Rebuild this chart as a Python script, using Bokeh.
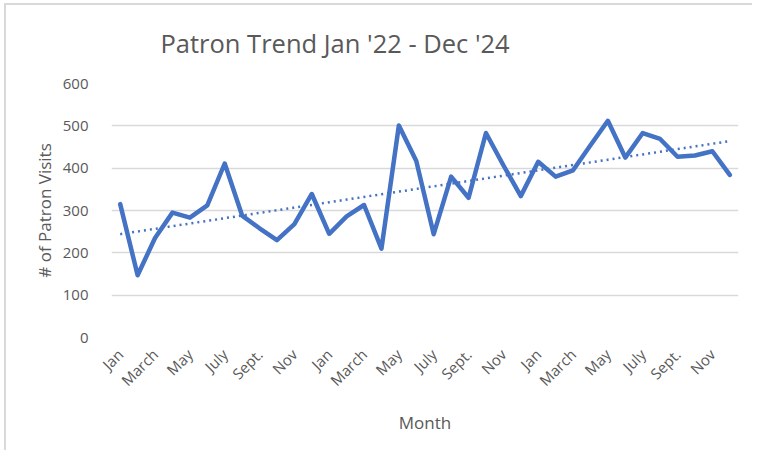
import math
import numpy as np
from bokeh.plotting import figure
from bokeh.models import Range1d, FixedTicker, ColumnDataSource
from bokeh.embed import file_html
from bokeh.resources import INLINE

# ---- data ----
months = ["Jan", "Feb", "March", "April", "May", "June", "July", "Aug", "Sept.", "Oct", "Nov", "Dec"] * 3
visits = [315, 147, 235, 295, 283, 312, 411, 288, 258, 230, 268, 339,
          245, 286, 313, 210, 501, 417, 244, 380, 330, 483, 407, 334,
          415, 380, 395, 454, 512, 425, 483, 469, 427, 430, 440, 384]
y_ticks = [0, 100, 200, 300, 400, 500, 600]
title_text = "Patron Trend Jan '22 - Dec '24"
x_title = "Month"
y_title = "# of Patron Visits"

idx = list(range(len(visits)))
shown = idx[::2]
label_map = {i: months[i] for i in shown}

slope, intercept = np.polyfit(idx, visits, 1)
trend = [slope * i + intercept for i in idx]

src = ColumnDataSource(dict(x=idx, y=visits, t=trend))

FONT = "Open Sans"
GREY = "#595959"
BLUE = "#4472C4"

p = figure(width=752, height=450, output_backend="svg", toolbar_location=None,
           x_range=Range1d(-0.5, len(visits) - 0.5), y_range=Range1d(0, 600),
           min_border_left=111, min_border_right=14, min_border_top=81, min_border_bottom=113)

p.outline_line_color = None
p.background_fill_color = "white"
p.border_fill_color = None

# chart-area border (only left and top edges visible in the reference), painted behind the canvas
p.styles = {"background": "linear-gradient(#d9d9d9, #d9d9d9) 4px 3px / 2px 100% no-repeat, "
                          "linear-gradient(#d9d9d9, #d9d9d9) 4px 3px / 100% 2px no-repeat, white"}

p.line("x", "t", source=src, line_color=BLUE, line_width=2.5, line_dash="2 4")
p.line("x", "y", source=src, line_color=BLUE, line_width=4.5, line_join="round", line_cap="round")

p.title.text = title_text
p.title.align = "left"
p.title.offset = 49
p.title.standoff = 47
p.title.text_font = FONT
p.title.text_font_size = "25.5px"
p.title.text_font_style = "normal"
p.title.text_color = GREY

p.xgrid.grid_line_color = None
p.ygrid.grid_line_color = "#d9d9d9"
p.ygrid.grid_line_width = 1.3
p.yaxis.ticker = FixedTicker(ticks=y_ticks)
p.xaxis.ticker = FixedTicker(ticks=shown)
p.xaxis.major_label_overrides = label_map
p.xaxis.major_label_orientation = math.pi / 4

for ax in (p.xaxis, p.yaxis):
    ax.axis_line_color = None
    ax.major_tick_line_color = None
    ax.minor_tick_line_color = None
    ax.major_label_text_font = FONT
    ax.major_label_text_font_size = "15px"
    ax.major_label_text_color = GREY
    ax.axis_label_text_font = FONT
    ax.axis_label_text_font_size = "17px"
    ax.axis_label_text_font_style = "normal"
    ax.axis_label_text_color = GREY

p.xaxis.axis_label = x_title
p.yaxis.axis_label = y_title
p.yaxis.major_label_standoff = 17
p.xaxis.major_label_standoff = 8
p.yaxis.axis_label_standoff = 4
p.xaxis.axis_label_standoff = 11

open("out.html", "w").write(file_html(p, INLINE))
